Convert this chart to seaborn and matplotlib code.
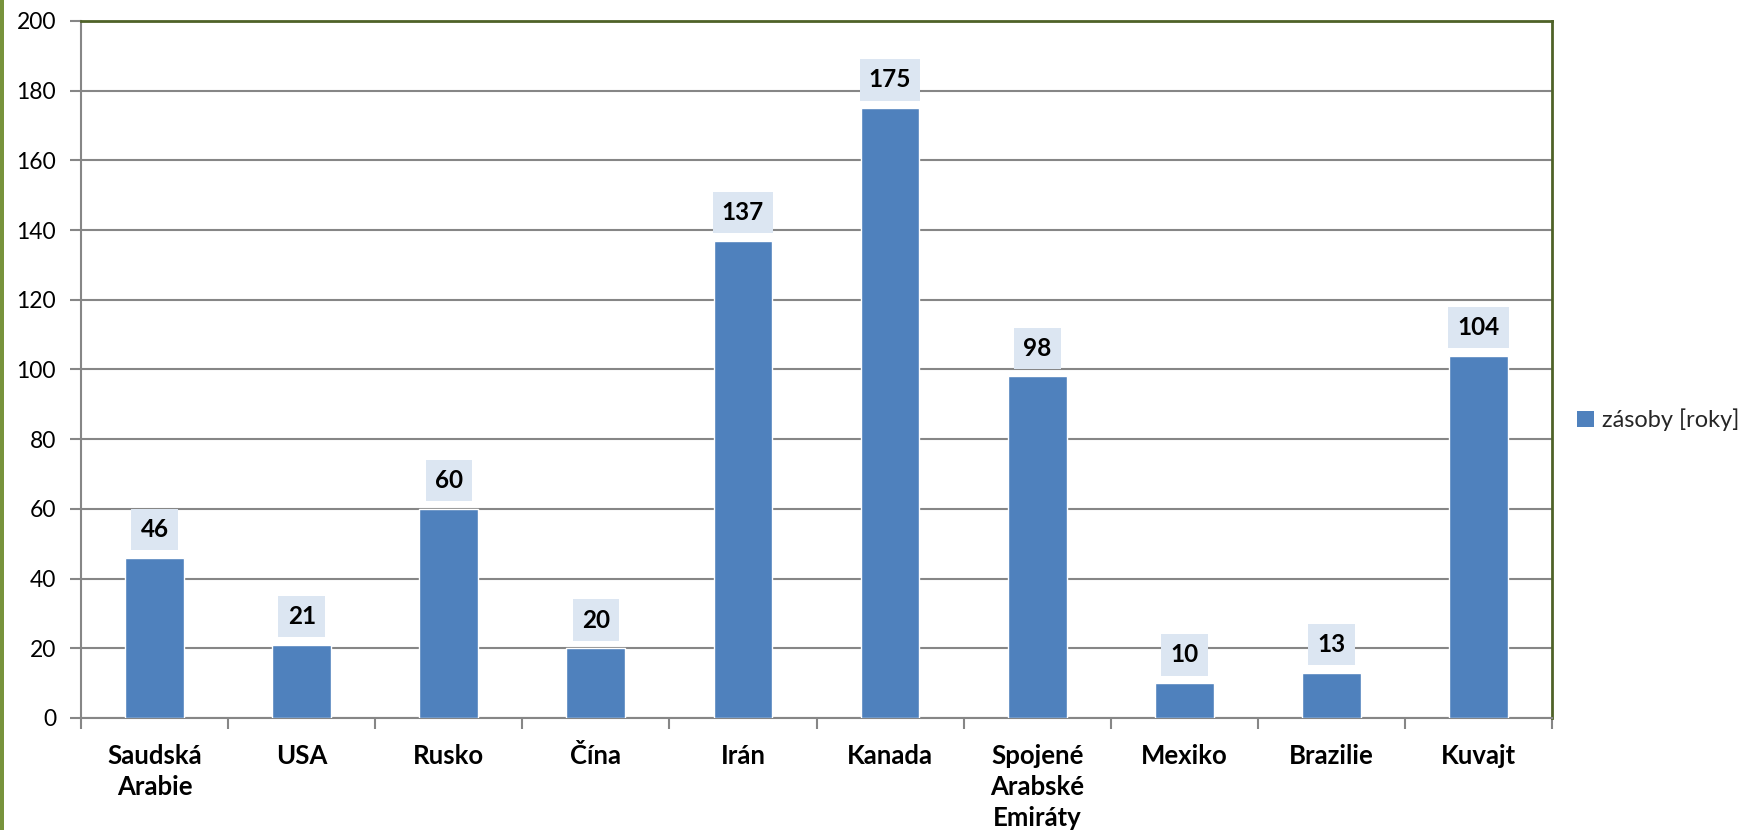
import matplotlib
matplotlib.use("Agg")
import matplotlib.pyplot as plt
from matplotlib.patches import Patch, Rectangle
import seaborn as sns
import pandas as pd

countries = ["Saudská\nArabie", "USA", "Rusko", "Čína", "Irán", "Kanada",
             "Spojené\nArabské\nEmiráty", "Mexiko", "Brazilie", "Kuvajt"]
reserves_years = [46, 21, 60, 20, 137, 175, 98, 10, 13, 104]
series_name = "zásoby [roky]"
y_ticks = [0, 20, 40, 60, 80, 100, 120, 140, 160, 180, 200]

bar_color = "#4F81BD"
grid_color = "#868686"
frame_green = "#4F6228"

df = pd.DataFrame({"country": countries, "value": reserves_years})

sns.set_theme(style="white")
plt.rcParams["font.family"] = ["Lato", "DejaVu Sans"]

fig = plt.figure(figsize=(17.62, 8.30), dpi=100)
ax = fig.add_axes([0.046, 0.135, 0.8348, 0.8397])

sns.barplot(data=df, x="country", y="value", color=bar_color, width=0.4,
            saturation=1, ax=ax, zorder=3)

ax.set_ylim(0, 200)
ax.set_xlim(-0.5, len(countries) - 0.5)
ax.set_yticks(y_ticks)
ax.set_yticklabels([str(t) for t in y_ticks], fontsize=16.5, color="black")
ax.yaxis.grid(True, color=grid_color, linewidth=1.5, zorder=0)
ax.set_axisbelow(True)
ax.set_xlabel("")
ax.set_ylabel("")

# category labels centred, tick marks on the category boundaries
ax.set_xticks(range(len(countries)))
ax.set_xticklabels(countries, fontsize=18.5, fontweight="bold", color="black",
                   linespacing=1.35)
ax.tick_params(axis="x", which="major", length=0, pad=19)
ax.set_xticks([i - 0.5 for i in range(len(countries) + 1)], minor=True)
ax.tick_params(axis="x", which="minor", length=8, width=1.5, color=grid_color,
               direction="out", bottom=True)
ax.tick_params(axis="y", length=8, width=1.5, color=grid_color, direction="out",
               left=True, pad=10)

for side in ("left", "bottom"):
    ax.spines[side].set_color(grid_color)
    ax.spines[side].set_linewidth(1.5)
for side in ("top", "right"):
    ax.spines[side].set_color(frame_green)
    ax.spines[side].set_linewidth(2)
    ax.spines[side].set_visible(True)

# value labels above bars
for i, v in enumerate(reserves_years):
    ax.annotate(str(v), (i, v), xytext=(0, 12), textcoords="offset points",
                ha="center", va="bottom", fontsize=17.5, fontweight="bold",
                color="black", zorder=5,
                bbox=dict(boxstyle="square,pad=0.38", fc="#DCE6F2", ec="none"))

# legend at the right
fig.legend(handles=[Patch(facecolor=bar_color, edgecolor="none", label=series_name)],
           loc="center left", bbox_to_anchor=(0.895, 0.494), frameon=False,
           fontsize=16.9, handlelength=0.72, handleheight=0.72, handletextpad=0.33,
           borderaxespad=0, borderpad=0)

# green stripe on the left edge
fig.patches.append(Rectangle((0, 0), 4 / 1762, 1, transform=fig.transFigure,
                             facecolor="#77933C", edgecolor="none"))

fig.savefig("out.png", dpi=100, facecolor="white")
